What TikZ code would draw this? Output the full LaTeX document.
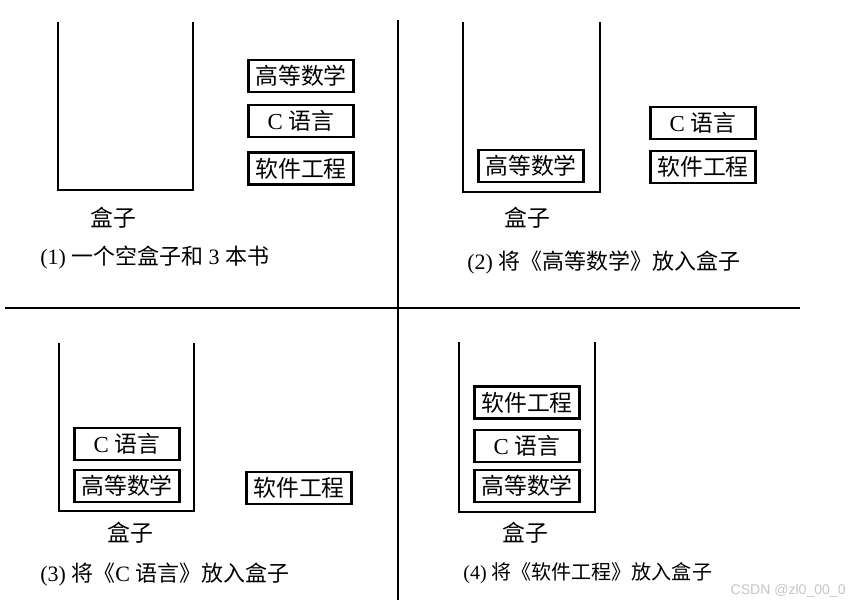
\documentclass[tikz,border=0pt]{standalone}
\usepackage{fontspec}
\setmainfont{Liberation Serif}
\newfontfamily\cjk{Noto Sans CJK SC}
\newfontfamily\markfont{Liberation Sans}
\usetikzlibrary{positioning}

\begin{document}
\begin{tikzpicture}[x=0.02cm, y=-0.02cm,
  book/.style={draw, line width=1.3pt, minimum width=2.1cm, minimum height=0.64cm, inner sep=0pt, font=\fontsize{13}{15}\selectfont},
  boxlabel/.style={inner sep=0pt, font=\fontsize{13}{15}\cjk},
  caption/.style={anchor=west, inner sep=0pt, font=\fontsize{12.5}{15}\selectfont},
  boxline/.style={line width=1.1pt}]

\useasboundingbox (0,0) rectangle (849,607);

% dividers
\draw [line width=1.1pt] (398,20) -- (398,600);
\draw [line width=1.1pt] (5,308) -- (800,308);

% (1)
\draw [boxline] (58,22) |- (193,190) -- (193,22);
\node [boxlabel] (box1) at (113,218) {盒子};
\node [book] (math1) at (301,76) {{\cjk 高等数学}};
\node [book, below=0.22cm of math1] (c1) {C {\cjk 语言}};
\node [book, below=0.26cm of c1] (se1) {{\cjk 软件工程}};
\node [caption] (cap1) at (40,258) {(1) {\cjk 一个空盒子和} 3 {\cjk 本书}};

% (2)
\draw [boxline] (463,22) |- (600,192) -- (600,22);
\node [boxlabel] (box2) at (527,218) {盒子};
\node [book] (math2) at (531,166) {{\cjk 高等数学}};
\node [book] (se2) at (703,167) {{\cjk 软件工程}};
\node [book, above=0.2cm of se2] (c2) {C {\cjk 语言}};
\node [caption] (cap2) at (467,263) {(2) {\cjk 将《高等数学》放入盒子}};

% (3)
\draw [boxline] (59,343) |- (194,511) -- (194,343);
\node [boxlabel] (box3) at (130,533) {盒子};
\node [book] (math3) at (127,486) {{\cjk 高等数学}};
\node [book, above=0.16cm of math3] (c3) {C {\cjk 语言}};
\node [book] (se3) at (299,488) {{\cjk 软件工程}};
\node [caption] (cap3) at (40,575) {(3) {\cjk 将《}C {\cjk 语言》放入盒子}};

% (4)
\draw [boxline] (459,342) |- (595,512) -- (595,342);
\node [boxlabel] (box4) at (525,533) {盒子};
\node [book] (math4) at (527,486) {{\cjk 高等数学}};
\node [book, above=0.12cm of math4] (c4) {C {\cjk 语言}};
\node [book, above=0.18cm of c4] (se4) {{\cjk 软件工程}};
\node [caption, font=\fontsize{11.4}{14}\selectfont] (cap4) at (463,573) {(4) {\cjk 将《软件工程》放入盒子}};

\node [anchor=east, inner sep=0pt, text=gray!45, font=\fontsize{8}{9}\markfont] (mark) at (846,591) {CSDN @zl0\_00\_0};

\end{tikzpicture}
\end{document}
